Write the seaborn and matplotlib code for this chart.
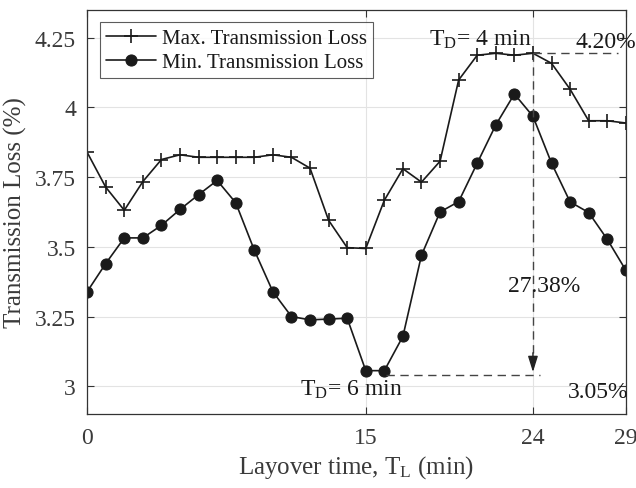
import matplotlib
matplotlib.use("Agg")
import matplotlib.pyplot as plt
import seaborn as sns
import pandas as pd

layover = list(range(30))
max_loss = [3.839, 3.714, 3.631, 3.734, 3.813, 3.830, 3.821, 3.821, 3.821, 3.821,
            3.830, 3.821, 3.782, 3.595, 3.497, 3.494, 3.667, 3.780, 3.732, 3.807,
            4.098, 4.187, 4.194, 4.187, 4.194, 4.158, 4.065, 3.952, 3.952, 3.944]
min_loss = [3.339, 3.440, 3.532, 3.532, 3.577, 3.634, 3.687, 3.738, 3.658, 3.488,
            3.339, 3.250, 3.238, 3.241, 3.244, 3.056, 3.056, 3.179, 3.470, 3.625,
            3.662, 3.800, 3.937, 4.048, 3.968, 3.800, 3.661, 3.623, 3.527, 3.416]
x_ticks = [0, 15, 24, 29]
y_ticks = [3, 3.25, 3.5, 3.75, 4, 4.25]
y_ticklabels = ["3", "3.25", "3.5", "3.75", "4", "4.25"]
series_names = ["Max. Transmission Loss", "Min. Transmission Loss"]

sns.set_theme(style="white")
plt.rcParams["font.family"] = "serif"
plt.rcParams["font.serif"] = ["Liberation Serif", "Times New Roman", "DejaVu Serif"]
plt.rcParams["mathtext.fontset"] = "custom"
plt.rcParams["mathtext.rm"] = "Liberation Serif"
plt.rcParams["mathtext.it"] = "Liberation Serif:italic"

df_max = pd.DataFrame({"x": layover, "y": max_loss})
df_min = pd.DataFrame({"x": layover, "y": min_loss})

fig = plt.figure(figsize=(6.36, 4.89), dpi=100)
ax = fig.add_axes([0.137, 0.151, 0.847, 0.827])

line_col = "#1a1a1a"
sns.lineplot(data=df_max, x="x", y="y", ax=ax, color=line_col, marker="+",
             markersize=10, markeredgewidth=1.2, markeredgecolor=line_col,
             linewidth=1.2, label=series_names[0])
sns.lineplot(data=df_min, x="x", y="y", ax=ax, color=line_col, marker="o",
             markersize=8, markeredgecolor=line_col, linewidth=1.2, label=series_names[1])

ax.set_xlim(0, 29)
ax.set_ylim(2.9, 4.35)
ax.set_xticks(x_ticks)
ax.set_xticklabels([str(t) for t in x_ticks])
ax.set_yticks(y_ticks)
ax.set_yticklabels(y_ticklabels)
ax.grid(True, color="#e3e3e3", linewidth=0.8)
ax.set_axisbelow(True)
for s in ax.spines.values():
    s.set_color("#333333")
    s.set_linewidth(0.9)
ax.tick_params(direction="in", length=5, width=0.8, colors="#333333",
               labelsize=17, labelcolor="#3a3a3a", top=True, right=True,
               bottom=True, left=True, pad=8)
ax.tick_params(axis="x", pad=9)

ax.set_xlabel("Layover time, T$_\\mathregular{L}$ (min)", fontsize=18, color="#3a3a3a")
ax.set_ylabel("Transmission Loss (%)", fontsize=18, color="#3a3a3a", labelpad=6)

leg = ax.legend(loc="upper left", fontsize=15, frameon=True, fancybox=False,
                borderaxespad=0.6, handlelength=2.4, handletextpad=0.3,
                borderpad=0.3, labelspacing=0.2)
leg.get_frame().set_edgecolor("#333333")
leg.get_frame().set_linewidth(0.8)
for t in leg.get_texts():
    t.set_color("#1a1a1a")

dash_col = "#444444"
ax.plot([24, 28.6], [4.194, 4.194], ls=(0, (6, 4)), color=dash_col, lw=1.0)
ax.plot([24, 24], [4.194, 3.07], ls=(0, (6, 4)), color=dash_col, lw=1.0)
ax.annotate("", xy=(24, 3.041), xytext=(24, 3.13),
            arrowprops=dict(arrowstyle="-|>,head_width=0.25,head_length=0.8",
                            color="#222222", lw=1.0))
ax.plot([16.1, 24.4], [3.041, 3.041], ls=(0, (6, 4)), color=dash_col, lw=1.0)

ax.text(21.15, 4.246, "T$_\\mathregular{D}$= 4 min", fontsize=17, ha="center",
        va="center", color="#1a1a1a")
ax.text(27.9, 4.236, "4.20%", fontsize=17, ha="center", va="center", color="#1a1a1a")
ax.text(24.6, 3.36, "27.38%", fontsize=17, ha="center", va="center", color="#1a1a1a")
ax.text(14.2, 2.99, "T$_\\mathregular{D}$= 6 min", fontsize=17, ha="center",
        va="center", color="#1a1a1a")
ax.text(27.5, 2.98, "3.05%", fontsize=17, ha="center", va="center", color="#1a1a1a")

fig.savefig("out.png", dpi=100)
